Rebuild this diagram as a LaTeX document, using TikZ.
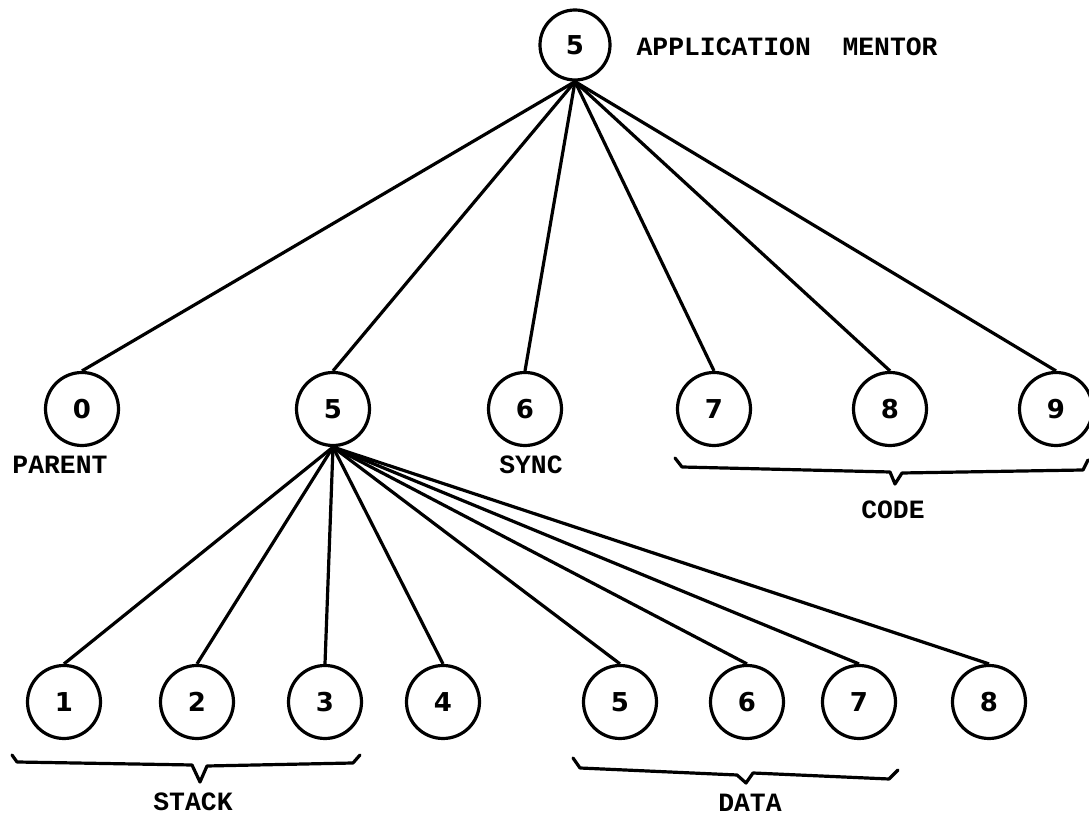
\documentclass[tikz,border=0pt]{standalone}
\usepackage{fontspec}
\setmonofont{Liberation Mono}
\newfontfamily\digitfont{DejaVu Sans}
\usepackage{tikz}

\begin{document}
\begin{tikzpicture}[x=0.5pt,y=-0.5pt,line width=1.6pt]
	\tikzstyle{unit}=[draw,shape=circle,minimum size=36.5pt,inner sep=0pt,font=\digitfont\bfseries\fontsize{13}{13}\selectfont]
	\tikzstyle{tag}=[inner sep=0pt,font=\ttfamily\bfseries\fontsize{13.2}{13.2}\selectfont]
	\tikzstyle{brace}=[line width=1.6pt,line join=round,line cap=round]
	
	\useasboundingbox (0,0) rectangle (1089,817);
	
	\node[unit,minimum size=35pt](t) at (575,45){5};
	\node[tag,anchor=west](app) at (635,47){APPLICATION\ \ MENTOR};
	
	\node[unit](m0) at (82,409){0};
	\node[unit](m1) at (333,409){5};
	\node[unit](m2) at (525,409){6};
	\node[unit](m3) at (714,409){7};
	\node[unit](m4) at (890,409){8};
	\node[unit](m5) at (1056,409){9};
	
	\node[tag](parent) at (60,465){PARENT};
	\node[tag](sync) at (531,465){SYNC};
	\node[tag](code) at (893,510){CODE};
	
	\node[unit](b1) at (64,702){1};
	\node[unit](b2) at (197,702){2};
	\node[unit](b3) at (325,702){3};
	\node[unit](b4) at (443,702){4};
	\node[unit](b5) at (620,702){5};
	\node[unit](b6) at (747,702){6};
	\node[unit](b7) at (859,702){7};
	\node[unit](b8) at (989,702){8};
	
	\node[tag](stack) at (193,802){STACK};
	\node[tag](data) at (750,803){DATA};
	
	\draw (t.south) -- (m0.north);
	\draw (t.south) -- (m1.north);
	\draw (t.south) -- (m2.north);
	\draw (t.south) -- (m3.north);
	\draw (t.south) -- (m4.north);
	\draw (t.south) -- (m5.north);
	
	\draw (m1.south) -- (b1.north);
	\draw (m1.south) -- (b2.north);
	\draw (m1.south) -- (b3.north);
	\draw (m1.south) -- (b4.north);
	\draw (m1.south) -- (b5.north);
	\draw (m1.south) -- (b6.north);
	\draw (m1.south) -- (b7.north);
	\draw (m1.south) -- (b8.north);
	
	\draw[brace] (675,458) -- (682,467) -- (890,472) -- (895,484) -- (902,473) -- (1083,470) -- (1088,460);
	\draw[brace] (12,755) -- (17,762) -- (192,765) -- (200,782) -- (207,766) -- (353,763) -- (360,755);
	\draw[brace] (573,758) -- (580,768) -- (737,775) -- (746,783) -- (753,773) -- (889,779) -- (898,770);
	
\end{tikzpicture}
\end{document}
